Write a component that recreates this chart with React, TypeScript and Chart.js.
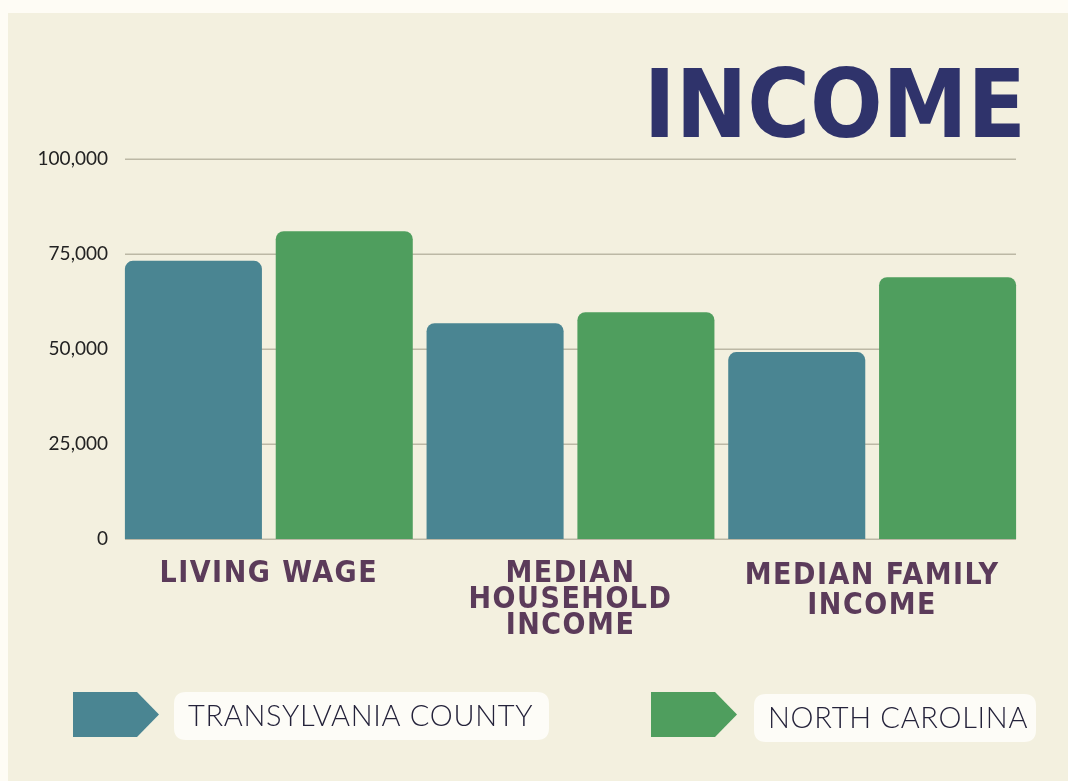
import React, { useEffect, useRef } from "react";
import { Chart, registerables } from "chart.js";

Chart.register(...registerables);

const categories: string[][] = [
  ["LIVING WAGE"],
  ["MEDIAN", "HOUSEHOLD", "INCOME"],
  ["MEDIAN FAMILY", "INCOME"],
];
const seriesNames = ["TRANSYLVANIA COUNTY", "NORTH CAROLINA"];
const transylvania = [73200, 56800, 49200];
const northCarolina = [81000, 59700, 68900];
const yMin = 0;
const yMax = 100000;
const yStep = 25000;
const titleText = "INCOME";

const TEAL = "#4a8592";
const GREEN = "#4f9e5e";
const PANEL = "#f3f0df";

const gridPlugin = {
  id: "customGrid",
  beforeDatasetsDraw(chart: any) {
    const { ctx, chartArea } = chart;
    const y = chart.scales.y;
    ctx.save();
    ctx.strokeStyle = "#bcb8a5";
    ctx.lineWidth = 1.5;
    for (const t of y.ticks) {
      const py = Math.round(y.getPixelForValue(t.value)) + 0.25;
      ctx.beginPath();
      ctx.moveTo(chartArea.left + 7, py);
      ctx.lineTo(chartArea.right - 7, py);
      ctx.stroke();
    }
    ctx.restore();
  },
};

const letterSpacingPlugin = {
  id: "xLetterSpacing",
  afterLayout(chart: any) {
    const sx = chart.scales.x;
    if (sx && !sx.__patched) {
      const orig = sx.drawLabels.bind(sx);
      sx.drawLabels = (area: any) => {
        const c = chart.ctx as any;
        const prev = c.letterSpacing;
        c.letterSpacing = "1.5px";
        orig(area);
        c.letterSpacing = prev || "0px";
      };
      sx.__patched = true;
    }
  },
};

function roundRect(ctx: CanvasRenderingContext2D, x: number, y: number, w: number, h: number, r: number) {
  ctx.beginPath();
  ctx.moveTo(x + r, y);
  ctx.lineTo(x + w - r, y);
  ctx.quadraticCurveTo(x + w, y, x + w, y + r);
  ctx.lineTo(x + w, y + h - r);
  ctx.quadraticCurveTo(x + w, y + h, x + w - r, y + h);
  ctx.lineTo(x + r, y + h);
  ctx.quadraticCurveTo(x, y + h, x, y + h - r);
  ctx.lineTo(x, y + r);
  ctx.quadraticCurveTo(x, y, x + r, y);
  ctx.closePath();
}

const titleLegendPlugin = {
  id: "titleLegend",
  afterDraw(chart: any) {
    const ctx = chart.ctx as any;
    ctx.save();
    ctx.fillStyle = "#2f336b";
    ctx.font = "bold 95px 'DejaVu Sans Condensed', 'DejaVu Sans', sans-serif";
    ctx.textAlign = "right";
    ctx.textBaseline = "alphabetic";
    ctx.fillText(titleText, 1018, 124);

    const items = [
      { sx: 65, sy: 679, box: { x: 166, y: 679, w: 375, h: 48 } },
      { sx: 643, sy: 679, box: { x: 746, y: 681, w: 282, h: 48 } },
    ];
    chart.data.datasets.forEach((ds: any, i: number) => {
      const it = items[i];
      ctx.fillStyle = ds.backgroundColor;
      ctx.beginPath();
      ctx.moveTo(it.sx, it.sy);
      ctx.lineTo(it.sx + 64, it.sy);
      ctx.lineTo(it.sx + 86, it.sy + 22.5);
      ctx.lineTo(it.sx + 64, it.sy + 45);
      ctx.lineTo(it.sx, it.sy + 45);
      ctx.closePath();
      ctx.fill();

      ctx.fillStyle = "#fdfcf7";
      roundRect(ctx, it.box.x, it.box.y, it.box.w, it.box.h, 12);
      ctx.fill();

      ctx.fillStyle = "#24223a";
      ctx.font = "300 29px Lato, 'Open Sans', sans-serif";
      ctx.letterSpacing = "0.7px";
      ctx.textAlign = "left";
      ctx.textBaseline = "middle";
      ctx.fillText(ds.label, it.box.x + 14, it.box.y + it.box.h / 2 + 1);
      ctx.letterSpacing = "0px";
    });
    ctx.restore();
  },
};

export default function App() {
  const ref = useRef<HTMLCanvasElement | null>(null);

  useEffect(() => {
    document.body.style.background = "#fefcf5";
    const canvas = ref.current;
    if (!canvas) return;
    const chart = new Chart(canvas, {
      type: "bar",
      data: {
        labels: categories,
        datasets: [
          {
            label: seriesNames[0],
            data: transylvania,
            backgroundColor: TEAL,
            borderRadius: 8,
            borderSkipped: "start",
            categoryPercentage: 1,
            barPercentage: 0.9085,
          },
          {
            label: seriesNames[1],
            data: northCarolina,
            backgroundColor: GREEN,
            borderRadius: 8,
            borderSkipped: "start",
            categoryPercentage: 1,
            barPercentage: 0.9085,
          },
        ],
      },
      options: {
        responsive: false,
        animation: false,
        layout: { padding: { top: 146, left: 0, right: 45, bottom: 0 } },
        plugins: {
          legend: { display: false },
          title: { display: false },
          tooltip: { enabled: false },
        },
        scales: {
          x: {
            grid: { display: false, drawTicks: false },
            border: { display: false },
            afterFit: (s: any) => {
              s.height = 242;
            },
            ticks: {
              autoSkip: false,
              maxRotation: 0,
              minRotation: 0,
              padding: 22,
              color: "#5b3b5a",
              font: (c: any) => ({
                family: "'DejaVu Sans Condensed', 'DejaVu Sans', sans-serif",
                size: 30,
                weight: "bold",
                lineHeight: c.index === 2 ? 1.0 : 0.87,
              }),
            },
          },
          y: {
            min: yMin,
            max: yMax,
            grid: { display: false, drawTicks: false },
            border: { display: false },
            afterFit: (s: any) => {
              s.width = 110;
            },
            ticks: {
              stepSize: yStep,
              padding: 10,
              color: "#222222",
              font: { family: "Lato, sans-serif", size: 19 },
              callback: (v: any) => Number(v).toLocaleString("en-US"),
            },
          },
        },
      },
      plugins: [gridPlugin, letterSpacingPlugin, titleLegendPlugin],
    });
    return () => chart.destroy();
  }, []);

  return (
    <div
      style={{
        position: "absolute",
        left: 8,
        top: 13,
        width: 1060,
        height: 768,
        background: PANEL,
      }}
    >
      <canvas ref={ref} width={1060} height={768} style={{ display: "block" }} />
    </div>
  );
}
